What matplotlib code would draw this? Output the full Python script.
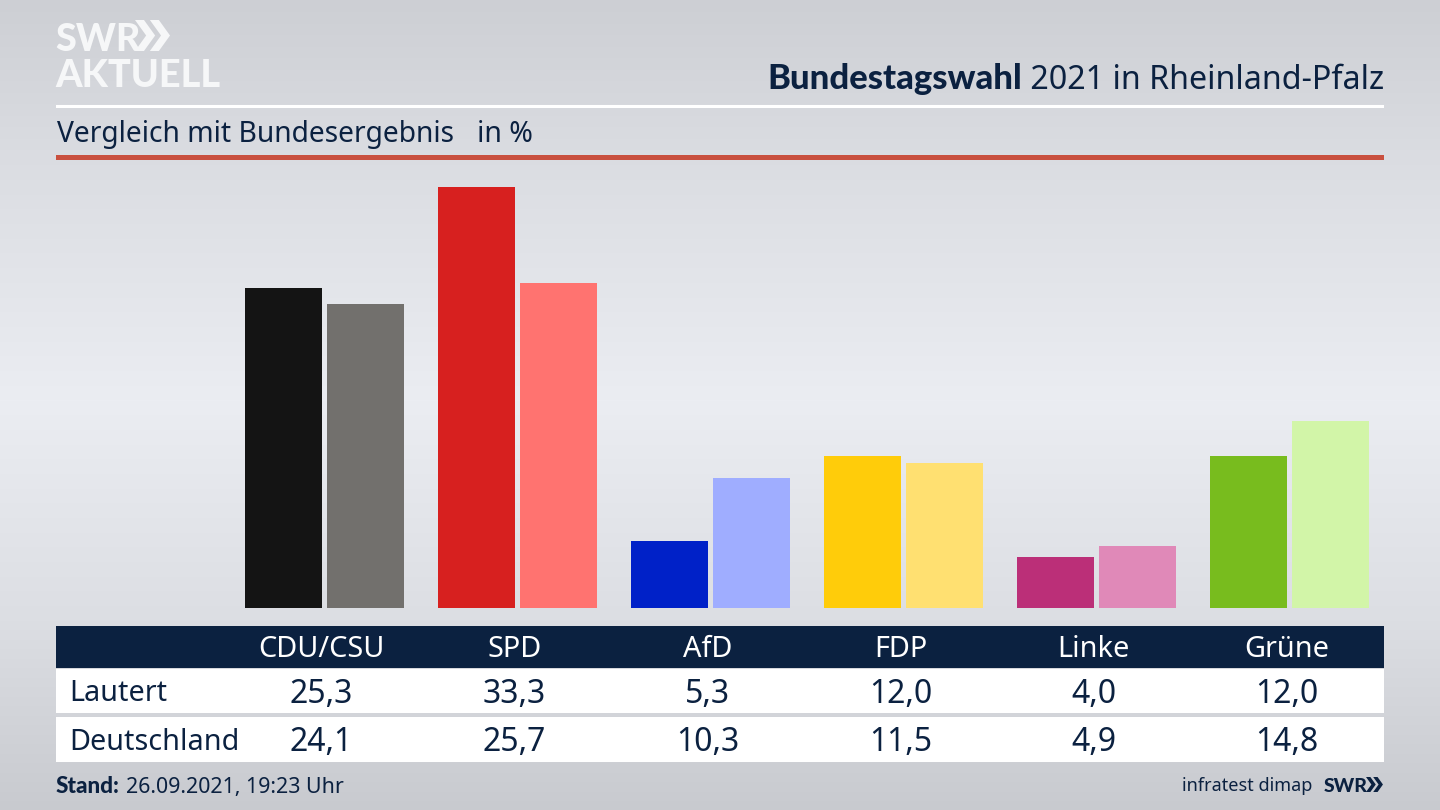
import numpy as np
import matplotlib
matplotlib.use('Agg')
import matplotlib.pyplot as plt
from matplotlib.patches import Polygon, Rectangle

parties = ['CDU/CSU', 'SPD', 'AfD', 'FDP', 'Linke', 'Grüne']
lautert = [25.3, 33.3, 5.3, 12.0, 4.0, 12.0]
deutschland = [24.1, 25.7, 10.3, 11.5, 4.9, 14.8]
colors_lautert = ['#141414', '#d7201f', '#0021c8', '#ffcc0a', '#bb2f78', '#78bc1e']
colors_deutschland = ['#72706d', '#ff7370', '#9fadff', '#ffe071', '#e089b8', '#d2f5a8']
row_names = ['Lautert', 'Deutschland']

navy = '#0b2140'
logo_white = '#f6f7f8'
plt.rcParams['font.family'] = ['Noto Sans', 'DejaVu Sans']

fig = plt.figure(figsize=(14.4, 8.1), dpi=100)

# background and all the furniture, in pixel coordinates
bg = fig.add_axes([0, 0, 1, 1])
bg.set_xlim(0, 1440)
bg.set_ylim(810, 0)
bg.axis('off')
stops_y = [0, 150, 400, 620, 810]
stops_c = [0xcd, 0xda, 0xeb, 0xdc, 0xc8]
grad = np.interp(np.arange(810), stops_y, stops_c)
img = np.stack([grad, grad + 2, grad + 7], axis=1)[:, None, :] / 255
bg.imshow(np.clip(img, 0, 1), extent=[0, 1440, 810, 0], aspect='auto', zorder=0)

bg.add_patch(Rectangle((56, 105), 1328, 2.5, color='white', lw=0))
bg.add_patch(Rectangle((56, 155), 1328, 5, color='#c9503f', lw=0))
bg.add_patch(Rectangle((56, 626), 1328, 42, color=navy, lw=0))
bg.add_patch(Rectangle((56, 669), 1328, 44, color='white', lw=0))
bg.add_patch(Rectangle((56, 717), 1328, 45, color='white', lw=0))


def chevrons(x, top, h, color):
    # the two arrows of the SWR logo
    d, t = h * 0.36, h * 0.29
    for off in (0, h * 0.48):
        xs = x + off
        bg.add_patch(Polygon([(xs, top), (xs + t, top), (xs + t + d, top + h / 2),
                              (xs + t, top + h), (xs, top + h), (xs + d, top + h / 2)],
                             color=color, lw=0))


# logo
bg.text(55, 51, 'SWR', fontsize=27.3, fontweight=900, color=logo_white, va='baseline', family='Lato')
chevrons(135, 20, 31, logo_white)
bg.text(55, 87, 'AKTUELL', fontsize=27.3, fontweight=900, color=logo_white, va='baseline', family='Lato')

# title: regular part right aligned, bold part put in front of it
t2 = bg.text(1384, 89, ' 2021 in Rheinland-Pfalz', fontsize=23.2, color=navy, ha='right', va='baseline')
fig.canvas.draw()
x0 = t2.get_window_extent().x0
bg.text(x0, 89, 'Bundestagswahl', fontsize=24.9, fontweight=900, color=navy, ha='right', va='baseline',
        family='Lato')

bg.text(57, 142, 'Vergleich mit Bundesergebnis', fontsize=20.3, color=navy, va='baseline')
bg.text(477, 142, 'in %', fontsize=20.5, color=navy, va='baseline')

# bars
px_per_unit = 12.63
centre0, step = 324.5, 193.0
ax = fig.add_axes([0, (810 - 608) / 810, 1, 440 / 810])
ax.set_xlim(-centre0 / step, (1440 - centre0) / step)
ax.set_ylim(0, 440 / px_per_unit)
ax.axis('off')
ax.patch.set_alpha(0)
x = np.arange(len(parties))
ax.bar(x - 41 / step, lautert, width=77 / step, color=colors_lautert)
ax.bar(x + 41 / step, deutschland, width=77 / step, color=colors_deutschland)

# table
centres = centre0 - 3 + step * x
for cx, p, a, b in zip(centres, parties, lautert, deutschland):
    bg.text(cx, 657, p, fontsize=20.8, color='white', ha='center', va='baseline')
    bg.text(cx, 703, f'{a:.1f}'.replace('.', ','), fontsize=23, color=navy, ha='center', va='baseline')
    bg.text(cx, 751, f'{b:.1f}'.replace('.', ','), fontsize=23, color=navy, ha='center', va='baseline')
bg.text(69, 701, row_names[0], fontsize=20.7, color=navy, va='baseline')
bg.text(69, 750, row_names[1], fontsize=20.7, color=navy, va='baseline')

# footer
bg.text(56, 793, 'Stand:', fontsize=16.2, fontweight=900, color=navy, va='baseline', family='Lato')
bg.text(126, 793, '26.09.2021, 19:23 Uhr', fontsize=15.4, color=navy, va='baseline')
bg.text(1312, 791, 'infratest dimap', fontsize=13, color=navy, ha='right', va='baseline')
bg.text(1324, 792, 'SWR', fontsize=14, fontweight=900, color=navy, va='baseline', family='Lato')
chevrons(1366, 777, 15, navy)

fig.savefig('out.png', dpi=100)
